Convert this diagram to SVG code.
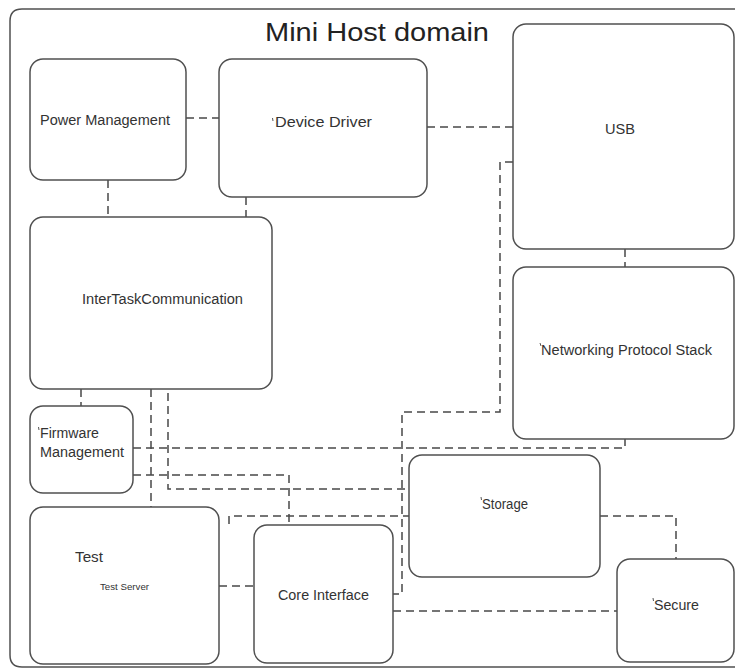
<svg xmlns="http://www.w3.org/2000/svg" width="735" height="669" viewBox="0 0 735 669">
<style>
.box{fill:#fff;stroke:#505050;stroke-width:1.5}
.frame{fill:none;stroke:#505050;stroke-width:1.5}
.c{fill:none;stroke:#484848;stroke-width:1.5;stroke-dasharray:8 5}
.t{font-family:"Liberation Sans",Arial,sans-serif;font-size:14px;fill:#333}
.tick{stroke:#555;stroke-width:1}
</style>
<rect width="735" height="669" fill="#fff"/>
<path class="frame" d="M745 9 H22 Q10 9 10 21 V655 Q10 667 22 667 H745"/>
<text x="265" y="40.5" class="t" style="font-size:26px;fill:#222" textLength="224" lengthAdjust="spacingAndGlyphs">Mini Host domain</text>
<g id="connectors">
<path class="c" d="M186 118 H219"/>
<path class="c" d="M427 127 H513"/>
<path class="c" d="M108 180 V217"/>
<path class="c" d="M246 197 V217"/>
<path class="c" d="M625 249 V267"/>
<path class="c" d="M513 162 H500 V412 H402 V594 H393"/>
<path class="c" d="M133 448 H625 V439"/>
<path class="c" d="M81 389 V406"/>
<path class="c" d="M151 389 V507"/>
<path class="c" d="M168 393 V489 H409"/>
<path class="c" d="M133 475 H289 V525"/>
<path class="c" d="M229 524 V516 H409"/>
<path class="c" d="M219 586 H254"/>
<path class="c" d="M393 611 H617"/>
<path class="c" d="M600 516 H676 V559"/>
</g>
<g id="power-management">
<rect class="box" x="30" y="59" width="156" height="121" rx="13"/>
<text class="t" x="40" y="125" textLength="130" lengthAdjust="spacingAndGlyphs">Power Management</text>
</g>
<g id="device-driver">
<rect class="box" x="219" y="59" width="208" height="138" rx="13"/>
<line class="tick" x1="272.5" y1="118" x2="273" y2="121"/>
<text class="t" x="275" y="127" textLength="97" lengthAdjust="spacingAndGlyphs">Device Driver</text>
</g>
<g id="usb">
<rect class="box" x="513" y="24" width="221" height="225" rx="13"/>
<text class="t" x="605" y="134" textLength="30" lengthAdjust="spacingAndGlyphs">USB</text>
</g>
<g id="networking-protocol-stack">
<rect class="box" x="513" y="267" width="221" height="172" rx="13"/>
<line class="tick" x1="540" y1="343" x2="541" y2="346"/>
<text class="t" x="541" y="355" textLength="171" lengthAdjust="spacingAndGlyphs">Networking Protocol Stack</text>
</g>
<g id="inter-task-communication">
<rect class="box" x="30" y="217" width="242" height="172" rx="13"/>
<text class="t" x="82" y="304" textLength="161" lengthAdjust="spacingAndGlyphs">InterTaskCommunication</text>
</g>
<g id="firmware-management">
<rect class="box" x="30" y="406" width="103" height="87" rx="13"/>
<line class="tick" x1="38.5" y1="427" x2="39" y2="430"/>
<text class="t" x="40" y="438" textLength="59" lengthAdjust="spacingAndGlyphs">Firmware</text>
<text class="t" x="40" y="457" textLength="84" lengthAdjust="spacingAndGlyphs">Management</text>
</g>
<g id="test">
<rect class="box" x="30" y="507" width="189" height="157" rx="13"/>
<text class="t" x="75" y="562" textLength="28" lengthAdjust="spacingAndGlyphs">Test</text>
<text class="t" x="100" y="590" style="font-size:9.5px" textLength="49" lengthAdjust="spacingAndGlyphs">Test Server</text>
</g>
<g id="core-interface">
<rect class="box" x="254" y="525" width="139" height="138" rx="13"/>
<text class="t" x="278" y="600" textLength="91" lengthAdjust="spacingAndGlyphs">Core Interface</text>
</g>
<g id="storage">
<rect class="box" x="409" y="455" width="191" height="122" rx="13"/>
<line class="tick" x1="481" y1="497" x2="481.5" y2="500"/>
<text class="t" x="482" y="509" textLength="46" lengthAdjust="spacingAndGlyphs">Storage</text>
</g>
<g id="secure">
<rect class="box" x="617" y="559" width="117" height="103" rx="13"/>
<line class="tick" x1="653" y1="598" x2="653.5" y2="601"/>
<text class="t" x="654" y="610" textLength="45" lengthAdjust="spacingAndGlyphs">Secure</text>
</g>
</svg>
